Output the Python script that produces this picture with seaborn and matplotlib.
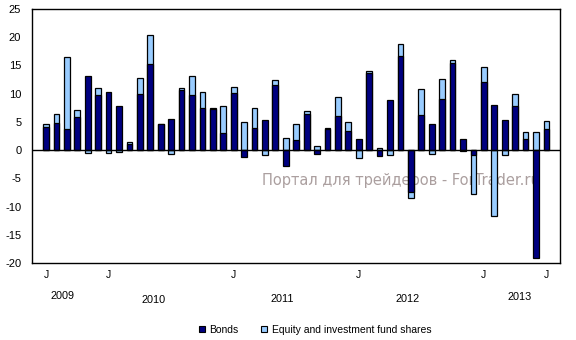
import numpy as np
import pandas as pd
import matplotlib
matplotlib.use("Agg")
import matplotlib.pyplot as plt
from matplotlib.lines import Line2D
import seaborn as sns

# Monthly values (49 months)
bonds = [4.1, 4.8, 3.7, 5.9, 13.1, 9.75, 10.3, 7.8, 1.1, 9.9, 15.3, 4.6,
         5.5, 10.7, 9.75, 7.45, 7.3, 3.0, 10.1, -1.25, 4.0, 5.4, 11.5, -2.8,
         1.8, 6.4, -0.75, 3.8, 6.0, 3.4, 1.95, 13.7, -1.1, 8.9, 16.7, -7.5,
         6.2, 4.6, 9.0, 15.4, 1.95, -0.9, 12.05, 8.0, 5.4, 7.8, 1.95, -19.1, 3.7]
equity = [0.5, 1.6, 12.8, 1.2, -0.6, 1.25, -0.6, -0.4, 0.4, 2.9, 5.1, 0.05,
          -0.7, 0.3, 3.4, 2.9, 0.1, 4.8, 1.1, 5.0, 3.5, -0.9, 0.9, 2.2,
          2.8, 0.5, 0.7, 0.15, 3.4, 1.6, -1.4, 0.3, 0.4, -0.95, 2.1, -0.9,
          4.6, -0.75, 3.6, 0.5, -0.15, -6.8, 2.65, -11.7, -0.9, 2.1, 1.25, 3.2, 1.4]
month_tick_idx = [0, 6, 18, 30, 42, 48]
month_tick_lbl = ["J", "J", "J", "J", "J", "J"]
years = ["2009", "2010", "2011", "2012", "2013"]
year_pos = [1.6, 10.3, 22.7, 34.7, 45.4]
year_ypx = [296, 300, 299, 299.5, 296.5]

NAVY = "#000080"
LIGHT = "#99ccff"

b = np.array(bonds)
e = np.array(equity)
same = np.sign(b) == np.sign(e)
light_top = np.where(same, b + e, e)

df = pd.DataFrame({"m": np.arange(len(b)), "bonds": b, "light": light_top})

sns.set_style("white")
plt.rcParams["font.family"] = ["Liberation Sans", "DejaVu Sans"]
plt.rcParams["text.color"] = "black"
plt.rcParams["xtick.color"] = "black"
plt.rcParams["ytick.color"] = "black"
plt.rcParams["axes.labelcolor"] = "black"

W, H = 576, 340
fig = plt.figure(figsize=(W / 100, H / 100), dpi=100)
L, R, T, B = 31.7, 560, 9, 263
ax = fig.add_axes([L / W, 1 - B / H, (R - L) / W, (B - T) / H])

sns.barplot(data=df, x="m", y="light", color=LIGHT, saturation=1, width=0.55,
            edgecolor="black", linewidth=0.9, ax=ax, zorder=2)
sns.barplot(data=df, x="m", y="bonds", color=NAVY, saturation=1, width=0.55,
            edgecolor="black", linewidth=0.9, ax=ax, zorder=3)

ax.axhline(0, color="black", lw=1, zorder=4)

ax.set_xlim(-1.37, 49.3)
ax.set_ylim(-20, 25)
ax.set_yticks(range(-20, 30, 5))
ax.set_yticklabels([str(v) for v in range(-20, 30, 5)], fontsize=8)
ax.set_xticks(month_tick_idx)
ax.set_xticklabels(month_tick_lbl, fontsize=7.5)
ax.tick_params(axis="x", length=0, pad=5, labelcolor="black")
ax.tick_params(axis="y", length=0, pad=7.5, left=True, labelcolor="black")
ax.set_xlabel("")
ax.set_ylabel("")
for s in ax.spines.values():
    s.set_color("black")
    s.set_linewidth(1)

trans = matplotlib.transforms.blended_transform_factory(ax.transData, fig.transFigure)
for yr, xp, yp in zip(years, year_pos, year_ypx):
    ax.text(xp, 1 - yp / H, yr, transform=trans, ha="center", va="center",
            fontsize=7.8, color="black", clip_on=False)

ax.text((262 - L) / (R - L), (B - 180) / (B - T), "Портал для трейдеров - ForTrader.ru",
        transform=ax.transAxes, ha="left", va="center", fontsize=10.5,
        family="DejaVu Sans", color="#ab9f9f", zorder=1)

handles = [Line2D([], [], marker="s", ls="", markersize=5, markerfacecolor=NAVY,
                  markeredgecolor="black", markeredgewidth=0.8),
           Line2D([], [], marker="s", ls="", markersize=5, markerfacecolor=LIGHT,
                  markeredgecolor="black", markeredgewidth=0.8)]
leg = fig.legend(handles, ["Bonds", "Equity and investment fund shares"], loc="center",
                 bbox_to_anchor=(314 / W, 1 - 330 / H), ncol=2, frameon=False,
                 fontsize=7.5, handletextpad=0.2, columnspacing=2.0, handlelength=1.0)
for t in leg.get_texts():
    t.set_color("black")

fig.savefig("out.png", dpi=100)
